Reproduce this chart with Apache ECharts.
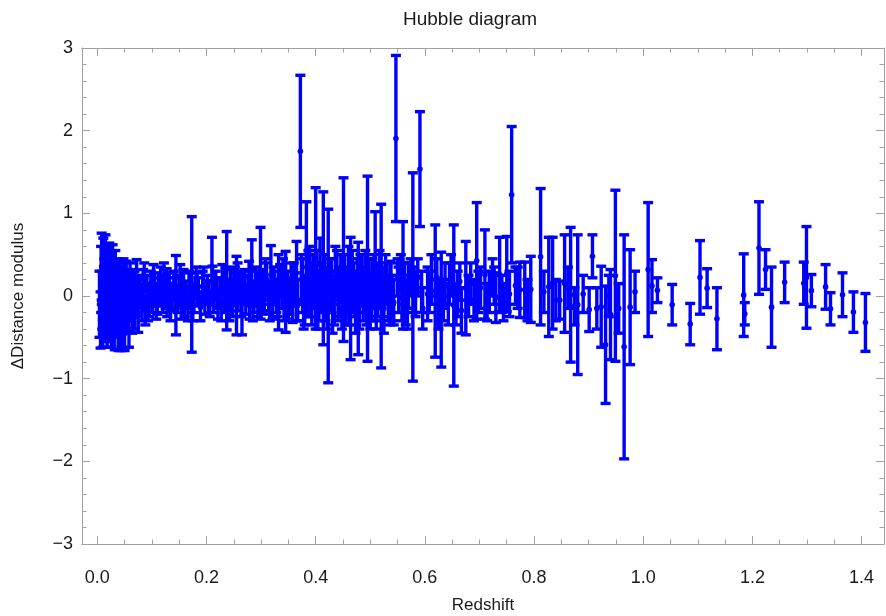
<!DOCTYPE html>
<html>
<head>
<meta charset="utf-8">
<script src="https://cdn.jsdelivr.net/npm/echarts@6/dist/echarts.min.js"></script>
<style>
html,body{margin:0;padding:0;background:#ffffff;}
#chart{width:886px;height:616px;}
</style>
</head>
<body>
<div id="chart"></div>
<script>
// ---------- text ----------
const chartTitle = 'Hubble diagram';
const xAxisTitle = 'Redshift';
const yAxisTitle = 'ΔDistance modulus';

// ---------- ticks ----------
const xTickValues = [0, 0.2, 0.4, 0.6, 0.8, 1.0, 1.2, 1.4];
const xTickLabels = ['0.0', '0.2', '0.4', '0.6', '0.8', '1.0', '1.2', '1.4'];
const yTickValues = [-3, -2, -1, 0, 1, 2, 3];
const yTickLabels = ['\u22123', '\u22122', '\u22121', '0', '1', '2', '3'];

// ---------- data (redshift, lower / upper end of each error bar) ----------
const redshift = [
  // low-z
  0.004,0.006,0.007,0.008,0.009,0.010,0.011,0.012,0.013,0.014,
  0.015,0.016,0.017,0.018,0.019,0.020,0.021,0.022,0.023,0.024,
  0.025,0.026,0.027,0.028,0.029,0.030,0.031,0.032,0.033,0.034,
  0.035,0.036,0.037,0.038,0.039,0.040,0.041,0.042,0.043,0.044,
  0.045,0.046,0.047,0.048,0.049,0.050,0.051,0.052,0.053,0.054,
  0.055,0.056,0.057,0.058,0.059,0.060,0.061,0.062,0.064,0.065,
  0.066,0.068,0.069,
  // 0.07 - 0.2
  0.072,0.075,0.078,0.082,0.086,0.088,0.091,0.095,0.098,0.101,
  0.105,0.108,0.112,0.116,0.120,0.122,0.125,0.128,0.132,0.136,
  0.140,0.144,0.147,0.150,0.154,0.158,0.162,0.166,0.170,0.173,
  0.177,0.181,0.185,0.189,0.193,0.197,
  // 0.2 - 0.37
  0.202,0.206,0.210,0.213,0.217,0.221,0.225,0.229,0.233,0.237,
  0.240,0.244,0.248,0.252,0.255,0.258,0.262,0.265,0.268,0.272,
  0.276,0.279,0.283,0.287,0.290,0.294,0.297,0.299,0.303,0.306,
  0.310,0.314,0.318,0.321,0.325,0.328,0.332,0.335,0.338,0.342,
  0.345,0.348,0.352,0.355,0.358,0.362,0.365,
  // 0.37 - 0.6
  0.372,0.376,0.380,0.383,0.387,0.391,0.395,0.400,0.404,0.408,
  0.414,0.418,0.423,0.427,0.431,0.436,0.441,0.446,0.451,0.456,
  0.460,0.464,0.469,0.473,0.478,0.482,0.487,0.491,0.495,0.500,
  0.504,0.509,0.513,0.517,0.520,0.525,0.530,0.536,0.540,0.547,
  0.552,0.556,0.560,0.565,0.570,0.578,0.583,0.587,0.591,0.596,
  // 0.6 - 0.8
  0.605,0.612,0.619,0.625,0.630,0.637,0.643,0.648,0.653,0.660,
  0.667,0.675,0.684,0.690,0.695,0.702,0.710,0.718,0.724,0.730,
  0.737,0.744,0.750,0.759,0.766,0.774,0.783,0.794,
  // 0.8 - 1.0
  0.812,0.818,0.827,0.834,0.840,0.847,0.856,0.862,0.867,0.874,
  0.880,0.890,0.901,0.907,0.915,0.923,0.931,0.937,0.940,0.949,
  0.955,0.965,0.976,0.985,
  // > 1.0
  1.009,1.016,1.026,1.053,1.086,1.104,1.117,1.135,1.184,1.186,
  1.212,1.224,1.235,1.259,1.294,1.299,1.308,1.334,1.343,1.365,
  1.385,1.407
];

const lowerBound = [
  // low-z
  -0.50,-0.63,-0.20,-0.05,-0.40,-0.62,0.05,-0.30,-0.15,-0.55,
  0.12,-0.35,-0.20,-0.62,-0.05,-0.40,-0.25,0.05,-0.55,-0.30,
  -0.10,-0.62,-0.20,0.00,-0.45,-0.30,-0.12,-0.65,-0.05,-0.35,
  -0.20,-0.50,0.00,-0.30,-0.66,-0.15,-0.40,-0.05,-0.25,-0.66,
  -0.10,-0.45,-0.20,0.00,-0.35,-0.66,-0.15,-0.30,0.00,-0.45,
  -0.20,-0.10,-0.40,-0.62,-0.15,0.02,-0.30,-0.20,-0.45,-0.05,
  -0.25,-0.10,-0.40,
  // 0.07 - 0.2
  -0.05,-0.44,-0.15,-0.30,0.05,-0.35,-0.10,-0.25,0.00,-0.20,
  -0.08,-0.28,-0.12,0.02,-0.20,0.05,-0.15,-0.25,-0.05,-0.18,
  0.00,-0.47,-0.20,-0.10,-0.28,0.00,-0.15,-0.30,-0.05,-0.68,
  -0.20,0.02,-0.12,-0.30,-0.08,-0.22,
  // 0.2 - 0.37
  -0.10,-0.25,0.00,-0.20,-0.05,-0.28,-0.12,0.02,-0.20,-0.41,
  -0.15,-0.05,-0.25,0.00,-0.47,-0.18,-0.08,-0.47,0.00,-0.22,
  -0.10,-0.28,-0.05,-0.20,0.00,-0.25,-0.12,-0.28,-0.05,-0.22,
  0.00,-0.18,-0.10,-0.28,-0.05,-0.20,-0.41,0.00,-0.15,-0.30,
  -0.44,-0.08,-0.22,0.02,-0.32,-0.12,-0.30,
  // 0.37 - 0.6
  0.83,-0.20,-0.35,-0.04,0.00,-0.25,-0.10,-0.40,-0.40,0.05,
  -0.59,-0.30,-1.05,-0.15,-0.45,0.00,-0.30,-0.10,-0.55,-0.35,
  0.05,-0.77,-0.20,-0.45,-0.71,-0.10,-0.30,0.00,-0.79,-0.40,
  -0.15,-0.30,-0.25,0.00,-0.87,-0.45,-0.10,-0.35,-0.30,0.90,
  -0.20,0.05,-0.40,-0.35,-0.15,-1.03,-0.25,0.00,0.84,-0.40,
  // 0.6 - 0.8
  -0.30,-0.10,-0.74,-0.40,-0.86,-0.15,-0.35,0.00,-1.09,-0.25,
  -0.45,-0.47,-0.10,-0.30,-0.28,-0.15,-0.28,-0.20,0.00,-0.32,
  -0.19,-0.30,-0.19,0.40,-0.10,-0.26,-0.26,-0.32,
  // 0.8 - 1.0
  -0.35,-0.20,-0.49,-0.40,-0.30,-0.28,-0.44,-0.15,-0.80,-0.35,
  -0.95,-0.20,-0.43,0.22,-0.40,-0.62,-1.30,-0.25,-0.77,-0.79,
  -0.45,-1.97,-0.83,-0.20,
  // > 1.0
  -0.49,-0.20,-0.08,-0.35,-0.59,-0.22,-0.14,-0.65,-0.49,-0.35,
  0.02,0.08,-0.62,-0.08,-0.10,-0.39,-0.13,-0.16,-0.35,-0.25,
  -0.44,-0.67
];

const upperBound = [
  // low-z
  0.30,0.05,0.60,0.76,0.30,-0.05,0.70,0.25,0.45,0.10,
  0.74,0.20,0.40,-0.10,0.62,0.15,0.35,0.64,-0.05,0.25,
  0.45,-0.15,0.30,0.62,0.05,0.20,0.38,-0.20,0.55,0.12,
  0.30,-0.05,0.45,0.15,-0.25,0.30,0.05,0.42,0.20,-0.30,
  0.35,0.00,0.25,0.45,0.10,-0.25,0.30,0.12,0.42,-0.05,
  0.22,0.32,0.00,-0.20,0.25,0.40,0.08,0.20,-0.05,0.32,
  0.12,0.30,0.05,
  // 0.07 - 0.2
  0.44,-0.05,0.25,0.10,0.40,0.00,0.25,0.12,0.30,0.15,
  0.28,0.05,0.22,0.35,0.10,0.40,0.18,0.05,0.28,0.15,
  0.30,0.49,0.12,0.25,0.05,0.32,0.18,0.05,0.28,0.96,
  0.15,0.35,0.22,0.02,0.30,0.12,
  // 0.2 - 0.37
  0.25,0.05,0.71,0.18,0.30,0.02,0.22,0.38,0.10,0.78,
  0.20,0.32,0.08,0.35,0.48,0.15,0.28,0.02,0.30,0.12,
  0.25,0.05,0.68,0.15,0.35,0.10,0.25,0.83,0.32,0.12,
  0.40,0.18,0.61,0.08,0.30,0.15,0.50,0.38,0.22,0.05,
  0.54,0.30,0.15,0.40,0.10,0.28,0.66,
  // 0.37 - 0.6
  2.67,0.45,0.25,1.14,0.55,0.30,0.50,1.31,0.20,0.70,
  1.26,0.35,1.05,0.45,0.15,0.60,0.30,0.50,1.43,0.25,
  0.60,0.71,0.40,0.10,0.65,0.50,0.30,0.55,1.45,0.20,
  0.45,1.02,0.30,0.55,1.11,0.15,0.40,0.42,0.25,2.91,
  0.35,0.50,0.90,0.20,0.40,1.49,0.30,0.45,2.23,0.10,
  // 0.6 - 0.8
  0.35,0.50,0.86,0.20,0.53,0.40,0.15,0.50,0.86,0.30,
  0.10,0.66,0.40,0.20,1.13,0.35,0.80,0.30,0.45,0.28,
  0.71,0.15,0.72,2.05,0.35,0.41,0.41,0.48,
  // 0.8 - 1.0
  1.30,0.30,0.71,0.71,0.20,0.18,0.74,0.35,0.83,0.10,
  0.74,0.25,0.10,0.74,0.10,0.36,0.12,0.25,0.32,1.28,
  0.15,0.74,0.56,0.30,
  // > 1.0
  1.13,0.44,0.22,0.14,-0.09,0.67,0.33,0.10,0.51,-0.08,
  1.14,0.56,0.35,0.41,0.41,0.84,0.26,0.38,0.04,0.28,
  0.05,0.03
];

// additional densely packed bars inside the central band (0.07 - 0.8)
const redshiftBand = [
  0.074,0.084,0.093,0.103,0.110,0.118,0.127,0.134,0.142,0.152,
  0.160,0.168,0.175,0.183,0.195,
  0.204,0.211,0.219,0.227,0.235,0.242,0.250,0.257,0.264,0.270,
  0.278,0.285,0.292,0.301,0.308,0.316,0.323,0.330,0.340,0.350,
  0.360,0.367,
  0.374,0.378,0.385,0.389,0.393,0.398,0.402,0.406,0.411,0.416,
  0.421,0.429,0.434,0.439,0.444,0.448,0.453,0.458,0.462,0.467,
  0.471,0.476,0.480,0.485,0.489,0.493,0.498,0.502,0.507,0.511,
  0.515,0.522,0.528,0.533,0.538,0.543,0.550,0.558,0.563,0.568,
  0.574,0.580,0.594,
  0.608,0.622,0.634,0.645,0.657,0.664,0.680,0.698,0.714,0.727,
  0.741,0.755,0.770,0.788
];
const lowerBand = [
  -0.20,-0.05,-0.30,0.05,-0.22,-0.10,0.00,-0.30,-0.15,0.02,
  -0.25,-0.08,-0.30,-0.10,0.00,
  -0.20,0.02,-0.15,-0.30,-0.05,-0.30,-0.12,0.00,-0.25,-0.08,
  0.02,-0.30,-0.12,-0.20,0.02,-0.30,-0.10,-0.25,0.00,-0.28,
  -0.05,-0.30,
  -0.10,-0.40,-0.25,0.05,-0.35,-0.15,0.00,-0.30,-0.20,0.00,
  -0.40,-0.20,-0.35,0.05,-0.25,-0.40,0.00,-0.20,-0.35,0.00,
  -0.25,-0.10,-0.40,0.00,-0.20,-0.35,-0.10,-0.30,0.00,-0.40,
  -0.15,-0.25,0.00,-0.30,-0.10,-0.35,0.00,-0.30,-0.10,-0.40,
  0.00,-0.20,-0.20,
  -0.20,0.00,-0.30,-0.10,-0.35,-0.05,-0.25,-0.20,-0.30,-0.10,
  -0.20,-0.25,-0.15,-0.30
];
const upperBand = [
  0.20,0.32,0.05,0.38,0.12,0.25,0.33,0.02,0.22,0.38,
  0.10,0.30,0.05,0.28,0.35,
  0.18,0.36,0.22,0.08,0.35,0.10,0.28,0.40,0.15,0.32,
  0.42,0.08,0.30,0.20,0.45,0.12,0.35,0.20,0.45,0.18,
  0.40,0.20,
  0.50,0.20,0.35,0.60,0.25,0.40,0.55,0.30,0.40,0.50,
  0.20,0.45,0.25,0.55,0.35,0.15,0.50,0.35,0.20,0.55,
  0.30,0.45,0.15,0.50,0.35,0.25,0.45,0.30,0.50,0.15,
  0.40,0.35,0.50,0.25,0.40,0.20,0.45,0.25,0.40,0.15,
  0.45,0.35,0.30,
  0.30,0.45,0.20,0.40,0.15,0.40,0.25,0.30,0.15,0.35,
  0.25,0.30,0.35,0.20
];

// ---------- styling ----------
const X_MIN = -0.028, X_MAX = 1.441;
const BAR_COLOR = '#0000ff';
const FRAME_COLOR = '#a0a0a0';
const LABEL_COLOR = '#1a1a1a';
const FONT = "'Liberation Sans', Arial, sans-serif";

const minorX = [];
for (let k = 0; k * 0.05 <= X_MAX + 1e-9; k++) {
  const v = Math.round(k * 0.05 * 100) / 100;
  if (Math.abs(v / 0.2 - Math.round(v / 0.2)) > 1e-6) minorX.push(v);
}

const barData = redshift.map((z, i) => [z, lowerBound[i], upperBound[i]])
  .concat(redshiftBand.map((z, i) => [z, lowerBand[i], upperBand[i]]));

function renderErrorBar(params, api) {
  const z = api.value(0), lo = api.value(1), hi = api.value(2);
  const pTop = api.coord([z, hi]);
  const pBot = api.coord([z, lo]);
  const pMid = api.coord([z, (lo + hi) / 2]);
  const hw = 5;
  const st = { stroke: BAR_COLOR, lineWidth: 3.4 };
  return {
    type: 'group',
    children: [
      { type: 'line', shape: { x1: pTop[0], y1: pTop[1], x2: pBot[0], y2: pBot[1] }, style: st },
      { type: 'line', shape: { x1: pTop[0] - hw, y1: pTop[1], x2: pTop[0] + hw, y2: pTop[1] }, style: st },
      { type: 'line', shape: { x1: pBot[0] - hw, y1: pBot[1], x2: pBot[0] + hw, y2: pBot[1] }, style: st },
      { type: 'circle', shape: { cx: pMid[0], cy: pMid[1], r: 2.8 }, style: { fill: BAR_COLOR } }
    ]
  };
}

function xAxisDef(pos, major, showLabel) {
  return {
    type: 'value', position: pos, min: X_MIN, max: X_MAX,
    axisLine: { show: true, onZero: false, lineStyle: { color: FRAME_COLOR, width: 1 } },
    axisTick: { show: true, inside: true, length: major ? 8 : 4.5,
      customValues: major ? xTickValues : minorX,
      lineStyle: { color: FRAME_COLOR, width: 1 } },
    axisLabel: showLabel ? {
      show: true, customValues: xTickValues, margin: 25,
      formatter: v => { const i = xTickValues.findIndex(t => Math.abs(t - v) < 1e-6); return i >= 0 ? xTickLabels[i] : ''; },
      color: LABEL_COLOR, fontSize: 18, fontFamily: FONT
    } : { show: false },
    splitLine: { show: false },
    name: showLabel ? xAxisTitle : '',
    nameLocation: 'middle', nameGap: 53,
    nameTextStyle: { color: LABEL_COLOR, fontSize: 17, fontFamily: FONT }
  };
}

function yAxisDef(pos, showLabel) {
  return {
    type: 'value', position: pos, min: -3, max: 3, interval: 1,
    axisLine: { show: true, onZero: false, lineStyle: { color: FRAME_COLOR, width: 1 } },
    axisTick: { show: true, inside: true, length: 8, lineStyle: { color: FRAME_COLOR, width: 1 } },
    minorTick: { show: true, splitNumber: 5, length: 4.5, lineStyle: { color: FRAME_COLOR, width: 1 } },
    axisLabel: showLabel ? {
      show: true, margin: 9,
      formatter: v => { const i = yTickValues.findIndex(t => Math.abs(t - v) < 1e-6); return i >= 0 ? yTickLabels[i] : ''; },
      color: LABEL_COLOR, fontSize: 18, fontFamily: FONT
    } : { show: false },
    splitLine: { show: false },
    minorSplitLine: { show: false },
    name: showLabel ? yAxisTitle : '',
    nameLocation: 'middle', nameGap: 55, nameRotate: 90,
    nameTextStyle: { color: LABEL_COLOR, fontSize: 17, fontFamily: FONT }
  };
}

const chart = echarts.init(document.getElementById('chart'), null, { renderer: 'canvas' });
chart.setOption({
  backgroundColor: '#ffffff',
  animation: false,
  graphic: [{
    type: 'text', left: 483 - 80, top: 10,
    style: { text: chartTitle, fill: LABEL_COLOR, fontSize: 19, fontFamily: FONT, width: 160, align: 'center' }
  }],
  grid: { left: 82, right: 2, top: 48, bottom: 72, containLabel: false, outerBoundsMode: 'none' },
  xAxis: [
    xAxisDef('bottom', true, true),
    xAxisDef('bottom', false, false),
    xAxisDef('top', true, false),
    xAxisDef('top', false, false)
  ],
  yAxis: [yAxisDef('left', true), yAxisDef('right', false)],
  series: [{
    type: 'custom',
    xAxisIndex: 0, yAxisIndex: 0,
    renderItem: renderErrorBar,
    encode: { x: 0, y: [1, 2] },
    data: barData,
    clip: false
  }]
});
</script>
</body>
</html>
